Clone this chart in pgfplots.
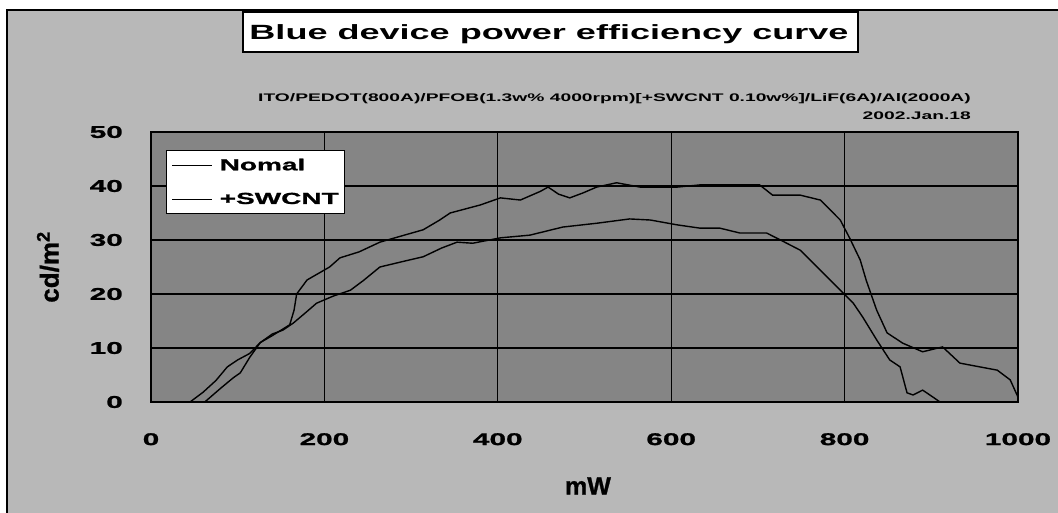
\documentclass[border=0pt]{standalone}
\usepackage{fontspec}
\usepackage{pgfplots}
\pgfplotsset{compat=1.18}
\newfontfamily\wf{Liberation Sans}[FakeStretch=1.75]
\newfontfamily\wfb{Liberation Sans}[FakeStretch=1.75,FakeBold=1.2]
\newfontfamily\nf{Liberation Sans}[FakeBold=1]
\begin{document}
\begin{tikzpicture}[x=1pt,y=1pt]
\useasboundingbox (0,0) rectangle (1058,512);
\clip (0,0) rectangle (1058,512);
\fill[white] (0,0) rectangle (1058,512);
\draw[fill=black!28, line width=1.5pt] (7,-10) rectangle (1070,502);
% title box
\draw[fill=white, line width=1.5pt] (243,460) rectangle (858,500);
\node[anchor=base, inner sep=0pt] at (549,472) {\wf\bfseries\fontsize{20.6}{24}\selectfont Blue device power efficiency curve};
\node[anchor=base east, inner sep=0pt] at (971,410) {\wf\bfseries\fontsize{11}{13}\selectfont ITO/PEDOT(800A)/PFOB(1.3w\% 4000rpm)[+SWCNT 0.10w\%]/LiF(6A)/Al(2000A)};
\node[anchor=base east, inner sep=0pt] at (971,392) {\wf\bfseries\fontsize{11}{13}\selectfont 2002.Jan.18};
\begin{axis}[
  at={(151pt,110pt)}, anchor=south west,
  scale only axis, width=867pt, height=270pt,
  xmin=0, xmax=1000, ymin=0, ymax=50,
  xtick={0,200,...,1000}, ytick={0,10,...,50},
  scaled ticks=false,
  /pgf/number format/1000 sep={},
  /pgf/number format/assume math mode=true,
  grid=major,
  major grid style={black, line width=1.1pt},
  major tick length=0pt,
  axis line style={black, line width=1.5pt},
  axis background/.style={fill=black!48},
  ticklabel style={font=\wfb\bfseries\fontsize{17}{19}\selectfont},
  xticklabel style={anchor=north, yshift=-31pt, inner sep=0pt},
  yticklabel style={anchor=east, xshift=-28pt, inner sep=0pt},
  xlabel={mW},
  xlabel style={font=\nf\bfseries\fontsize{25}{27}\selectfont, at={(axis description cs:0.504,-0.311)}, anchor=center},
  ylabel={cd/m\textsuperscript{2}},
  ylabel style={font=\nf\bfseries\fontsize{26}{28}\selectfont, at={(axis description cs:-0.1188,0.5)}, anchor=center},
  legend style={at={(axis description cs:0.0173,0.933)}, anchor=north west,
    fill=white, draw=black, line width=1.2pt,
    font=\wfb\bfseries\fontsize{16}{18}\selectfont,
    inner xsep=5pt, inner ysep=7pt, row sep=19pt, column sep=6pt,
    nodes={inner sep=1pt, anchor=west}},
  legend cell align=left,
  legend image code/.code={\draw[black, line width=1.1pt] (0pt,0pt) -- (40pt,0pt);},
]
\addplot[black, line width=1.4pt] coordinates {
(45,0) (60,1.8) (75,4) (88,6.5) (100,7.8) (114,9) (126,11) (140,12.6) (152,13.3) (164,14.6) (178,16.5) (191,18.3) (210,19.6) (230,20.7) (245,22.5) (264,25) (290,26) (314,26.9) (335,28.5) (353,29.6) (371,29.4) (403,30.4) (437,30.9) (475,32.4) (514,33.1) (552,33.9) (576,33.7) (607,32.8) (633,32.2) (656,32.2) (679,31.3) (710,31.3) (726,30) (749,28.1) (772,24.4) (795,20.7) (810,18.3) (821,15.7) (837,11.5) (852,7.8) (864,6.5) (872,1.7) (879,1.3) (890,2.2) (902,0.9) (910,0)
};
\addlegendentry{Nomal}
\addplot[black, line width=1.4pt] coordinates {
(62,0) (80,2.5) (95,4.5) (103,5.4) (114,8.3) (126,11) (140,12.3) (160,14.3) (165,17) (168,20) (180,22.6) (206,25) (218,26.7) (240,27.8) (264,29.6) (290,30.8) (314,31.9) (333,33.7) (345,35) (380,36.5) (403,37.8) (426,37.4) (449,39) (458,39.8) (470,38.5) (483,37.8) (498,38.7) (514,39.8) (537,40.6) (564,39.8) (607,39.8) (633,40.2) (668,40.2) (702,40.2) (717,38.3) (749,38.3) (772,37.4) (795,33.7) (806,30.3) (818,26.3) (825,22.5) (837,17) (849,12.8) (867,10.9) (890,9.3) (913,10.2) (933,7.2) (956,6.5) (976,5.9) (991,4.1) (1000,0.9)
};
\addlegendentry{+SWCNT}
\end{axis}
\end{tikzpicture}
\end{document}
